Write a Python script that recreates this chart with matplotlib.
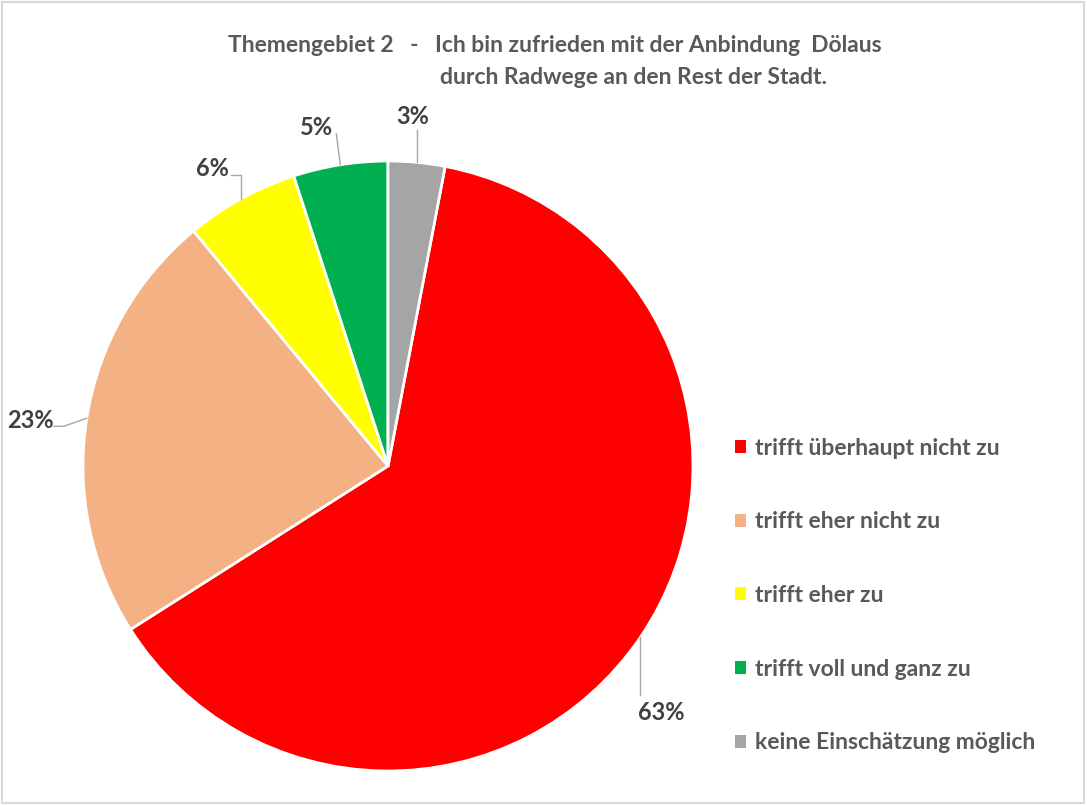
import numpy as np
import matplotlib
matplotlib.use("Agg")
from matplotlib import pyplot as plt
from matplotlib.patches import Patch, Rectangle

plt.rcParams['font.family'] = ['Lato', 'DejaVu Sans']

categories = ["trifft überhaupt nicht zu", "trifft eher nicht zu", "trifft eher zu",
              "trifft voll und ganz zu", "keine Einschätzung möglich"]
values = [63, 23, 6, 5, 3]
pct_labels = ["63%", "23%", "6%", "5%", "3%"]
colors = ["#FF0000", "#F4B183", "#FFFF00", "#00B050", "#A5A5A5"]

# leader line points and label centre, in pixels relative to the wedge edge (y up)
leaders = [[(0, -58)], [(-23, -8), (-33, -8)], [(0, 24), (-10, 24)], [(-4, 31)], [(0, 32)]]
text_off = [(21, -75), (-56, -2), (-29, 30), (-24, 37), (-4, 46)]

R_PX = 305.0  # pie radius in pixels, 1 data unit

fig = plt.figure(figsize=(10.87, 8.05), dpi=100)
fig.patches.append(Rectangle((0.002, 0.003), 0.995, 0.995, transform=fig.transFigure,
                             fill=False, edgecolor="#D9D9D9", linewidth=1.5))

ax = fig.add_axes([83 / 1087, 34 / 805, 610 / 1087, 610 / 805])
start = 90 - values[-1] / sum(values) * 360
wedges, _ = ax.pie(values, colors=colors, startangle=start, counterclock=False,
                   radius=1.0, wedgeprops=dict(edgecolor="white", linewidth=2))
ax.set_xlim(-1, 1)
ax.set_ylim(-1, 1)
ax.set_aspect("equal")
ax.axis("off")

for w, lab, pts, toff in zip(wedges, pct_labels, leaders, text_off):
    ang = np.deg2rad((w.theta1 + w.theta2) / 2)
    x0, y0 = np.cos(ang), np.sin(ang)
    xs = [x0] + [x0 + p[0] / R_PX for p in pts]
    ys = [y0] + [y0 + p[1] / R_PX for p in pts]
    ax.plot(xs, ys, color="#A6A6A6", lw=1, clip_on=False)
    ax.text(x0 + toff[0] / R_PX, y0 + toff[1] / R_PX, lab, ha="center", va="center",
            fontsize=17, fontweight="bold", color="#404040", clip_on=False)

fig.text(555 / 1087, 1 - 46 / 805, "Themengebiet 2   -   Ich bin zufrieden mit der Anbindung  Dölaus",
         ha="center", va="center", fontsize=16.5, fontweight="bold", color="#595959")
fig.text(634 / 1087, 1 - 77 / 805, "durch Radwege an den Rest der Stadt.",
         ha="center", va="center", fontsize=16.5, fontweight="bold", color="#595959")

handles = [Patch(facecolor=c, edgecolor="none") for c in colors]
fig.legend(handles, categories, loc="upper left", bbox_to_anchor=(714 / 1087, 1 - 417 / 805),
           frameon=False, handlelength=0.5, handleheight=0.5, handletextpad=0.4,
           labelspacing=2.30, labelcolor="#595959", prop=dict(weight="bold", size=16.5))

fig.savefig("out.png", dpi=100)
